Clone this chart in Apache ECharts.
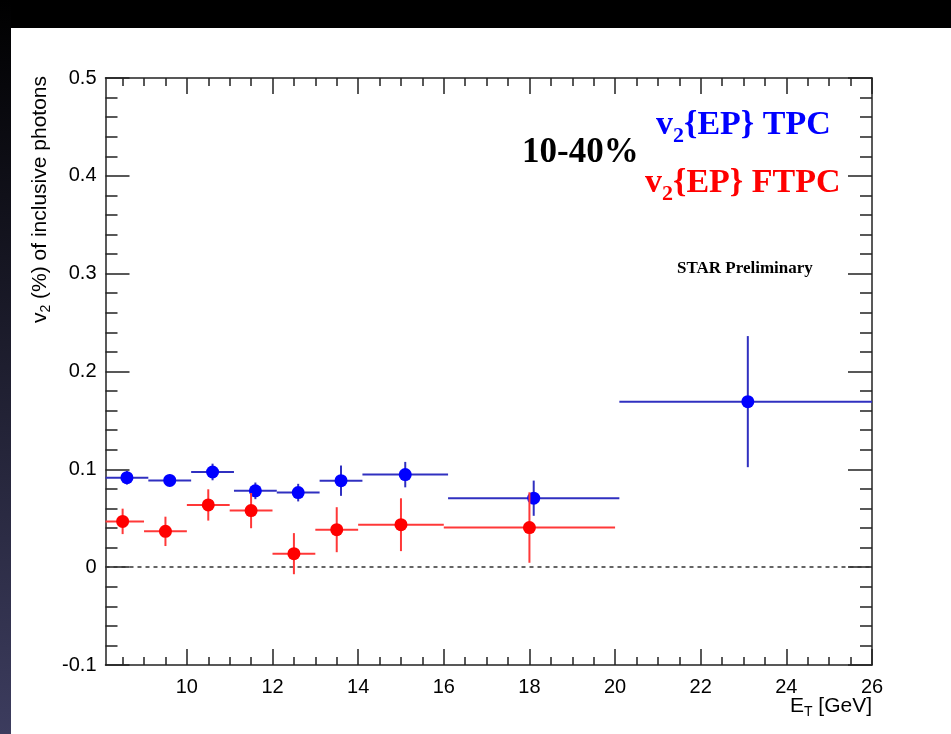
<!DOCTYPE html>
<html>
<head>
<meta charset="utf-8">
<script src="https://cdn.jsdelivr.net/npm/echarts@6/dist/echarts.min.js"></script>
<style>
html,body{margin:0;padding:0;background:#fff;}
#chart{width:951px;height:734px;}
</style>
</head>
<body>
<div id="chart"></div>
<script>
// ---- data ----
const blueX    = [8.6, 9.6, 10.6, 11.6, 12.6, 13.6, 15.1, 18.1, 23.1];
const blueXErr = [0.5, 0.5, 0.5, 0.5, 0.5, 0.5, 1, 2, 3];
const blueY    = [0.0915, 0.0887, 0.0973, 0.0780, 0.0762, 0.0884, 0.0946, 0.0705, 0.1692];
const blueYErr = [0.007, 0.006, 0.0085, 0.0085, 0.009, 0.0155, 0.013, 0.018, 0.067];

const redX    = [8.5, 9.5, 10.5, 11.5, 12.5, 13.5, 15, 18];
const redXErr = [0.5, 0.5, 0.5, 0.5, 0.5, 0.5, 1, 2];
const redY    = [0.0468, 0.0366, 0.0636, 0.0578, 0.0138, 0.0383, 0.0434, 0.0405];
const redYErr = [0.013, 0.015, 0.016, 0.018, 0.021, 0.023, 0.027, 0.036];

const xMajorTicks = [10, 12, 14, 16, 18, 20, 22, 24, 26];
const yMajorTicks = [-0.1, 0, 0.1, 0.2, 0.3, 0.4, 0.5];
const yTickLabels = ['-0.1', '0', '0.1', '0.2', '0.3', '0.4', '0.5'];

// minor tick positions
const xMinorTicks = [];
for (let i = 17; i <= 52; i++) { const v = i / 2; if (v % 2 !== 0) xMinorTicks.push(v); }
const yMinorTicks = [];
for (let i = -5; i <= 25; i++) { if (i % 5 !== 0) yMinorTicks.push(Math.round(i * 2) / 100); }

const X_MIN = 8.1, X_MAX = 26, Y_MIN = -0.1, Y_MAX = 0.5;
const LABEL_FONT = "'Liberation Sans Narrow', 'Liberation Sans', Arial, sans-serif";
const TITLE_FONT = "'Liberation Sans', Arial, sans-serif";
const SERIF = "'Liberation Serif', 'Times New Roman', serif";

const chart = echarts.init(document.getElementById('chart'), null, {renderer: 'canvas'});

function xAxisDef(position, ticks, len, showLine, showLabel) {
  return {
    type: 'value', position: position, min: X_MIN, max: X_MAX,
    axisLine: {show: showLine, onZero: false, lineStyle: {color: '#222', width: 1.5}},
    axisTick: {show: true, inside: true, length: len, customValues: ticks, lineStyle: {color: '#222', width: 1.5}},
    axisLabel: showLabel ? {show: true, customValues: ticks, margin: 12, fontSize: 20, color: '#000', fontFamily: LABEL_FONT} : {show: false},
    splitLine: {show: false}
  };
}
function yAxisDef(position, ticks, len, showLine, showLabel) {
  return {
    type: 'value', position: position, min: Y_MIN, max: Y_MAX,
    axisLine: {show: showLine, onZero: false, lineStyle: {color: '#222', width: 1.5}},
    axisTick: {show: true, inside: true, length: len, customValues: ticks, lineStyle: {color: '#222', width: 1.5}},
    axisLabel: showLabel ? {
      show: true, customValues: ticks, margin: 9, fontSize: 20, color: '#000', fontFamily: LABEL_FONT,
      formatter: function (v) { const i = yMajorTicks.findIndex(t => Math.abs(t - v) < 1e-9); return i >= 0 ? yTickLabels[i] : ''; }
    } : {show: false},
    splitLine: {show: false}
  };
}

function barsRenderer(color) {
  return function (params, api) {
    const x = api.value(0), y = api.value(1), ex = api.value(2), ey = api.value(3);
    const cs = params.coordSys;
    const clampX = v => Math.max(cs.x, Math.min(cs.x + cs.width, v));
    const p0 = api.coord([x - ex, y]), p1 = api.coord([x + ex, y]);
    const q0 = api.coord([x, y - ey]), q1 = api.coord([x, y + ey]);
    return {
      type: 'group',
      children: [
        {type: 'line', shape: {x1: clampX(p0[0]), y1: p0[1], x2: clampX(p1[0]), y2: p1[1]}, style: {stroke: color, lineWidth: 2}},
        {type: 'line', shape: {x1: q0[0], y1: q0[1], x2: q1[0], y2: q1[1]}, style: {stroke: color, lineWidth: 2}}
      ]
    };
  };
}

const blueData = blueX.map((x, i) => [x, blueY[i], blueXErr[i], blueYErr[i]]);
const redData = redX.map((x, i) => [x, redY[i], redXErr[i], redYErr[i]]);

const option = {
  backgroundColor: '#fff',
  animation: false,
  grid: {left: 105.5, top: 78, right: 79, bottom: 69, containLabel: false},
  xAxis: [
    xAxisDef('bottom', xMajorTicks, 16, true, true),
    xAxisDef('bottom', xMinorTicks, 8, false, false),
    xAxisDef('top', xMajorTicks, 16, true, false),
    xAxisDef('top', xMinorTicks, 8, false, false)
  ],
  yAxis: [
    yAxisDef('left', yMajorTicks, 24, true, true),
    yAxisDef('left', yMinorTicks, 12, false, false),
    yAxisDef('right', yMajorTicks, 24, true, false),
    yAxisDef('right', yMinorTicks, 12, false, false)
  ],
  series: [
    {
      type: 'scatter', name: 'zero', xAxisIndex: 0, yAxisIndex: 0, data: [], symbolSize: 0,
      markLine: {
        silent: true, symbol: ['none', 'none'], label: {show: false},
        lineStyle: {color: '#333', width: 1.5, type: [4, 4]},
        data: [{yAxis: 0}]
      }
    },
    {
      type: 'custom', name: 'bluebars', xAxisIndex: 0, yAxisIndex: 0,
      renderItem: barsRenderer('#3030c0'), data: blueData, encode: {x: 0, y: 1}, z: 3
    },
    {
      type: 'scatter', name: 'v2{EP} TPC', xAxisIndex: 0, yAxisIndex: 0,
      data: blueData.map(d => [d[0], d[1]]), symbol: 'circle', symbolSize: 13,
      itemStyle: {color: '#0000ff', opacity: 1}, z: 4
    },
    {
      type: 'custom', name: 'redbars', xAxisIndex: 0, yAxisIndex: 0,
      renderItem: barsRenderer('#ff3838'), data: redData, encode: {x: 0, y: 1}, z: 5
    },
    {
      type: 'scatter', name: 'v2{EP} FTPC', xAxisIndex: 0, yAxisIndex: 0,
      data: redData.map(d => [d[0], d[1]]), symbol: 'circle', symbolSize: 13,
      itemStyle: {color: '#ff0000', opacity: 1}, z: 6
    }
  ],
  graphic: [
    {type: 'rect', left: 0, top: 0, shape: {width: 951, height: 28}, style: {fill: '#000'}, silent: true},
    {type: 'rect', left: 0, top: 0, shape: {width: 11, height: 734}, silent: true,
      style: {fill: new echarts.graphic.LinearGradient(0, 0, 0, 1, [{offset: 0, color: '#000'}, {offset: 1, color: '#3c3c5e'}])}},
    {type: 'text', x: 40, y: 76, rotation: Math.PI / 2, silent: true,
      style: {
        text: 'v{s|2} (%) of inclusive photons', align: 'right', verticalAlign: 'middle',
        font: "21px " + TITLE_FONT, fill: '#000',
        rich: {s: {fontSize: 14, fontFamily: TITLE_FONT, padding: [12, 0, 0, 0]}}
      }},
    {type: 'text', x: 872, y: 706, silent: true,
      style: {
        text: 'E{s|T} [GeV]', align: 'right', verticalAlign: 'middle',
        font: "21px " + LABEL_FONT, fill: '#000',
        rich: {s: {fontSize: 14, fontFamily: LABEL_FONT, padding: [13, 0, 0, 0]}}
      }},
    {type: 'text', x: 522, y: 153, silent: true,
      style: {text: '10-40%', align: 'left', verticalAlign: 'middle', font: "bold 35px " + SERIF, fill: '#000'}},
    {type: 'text', x: 656, y: 125, silent: true,
      style: {
        text: 'v{s|2}{EP} TPC', align: 'left', verticalAlign: 'middle',
        font: "bold 34px " + SERIF, fill: '#0000ff',
        rich: {s: {fontSize: 22, fontWeight: 'bold', fontFamily: SERIF, padding: [22, 0, 0, 0]}}
      }},
    {type: 'text', x: 645, y: 183, silent: true,
      style: {
        text: 'v{s|2}{EP} FTPC', align: 'left', verticalAlign: 'middle',
        font: "bold 34px " + SERIF, fill: '#ff0000',
        rich: {s: {fontSize: 22, fontWeight: 'bold', fontFamily: SERIF, padding: [22, 0, 0, 0]}}
      }},
    {type: 'text', x: 677, y: 269, silent: true,
      style: {text: 'STAR Preliminary', align: 'left', verticalAlign: 'middle', font: "bold 17px " + SERIF, fill: '#000'}}
  ]
};
chart.setOption(option);
</script>
</body>
</html>
